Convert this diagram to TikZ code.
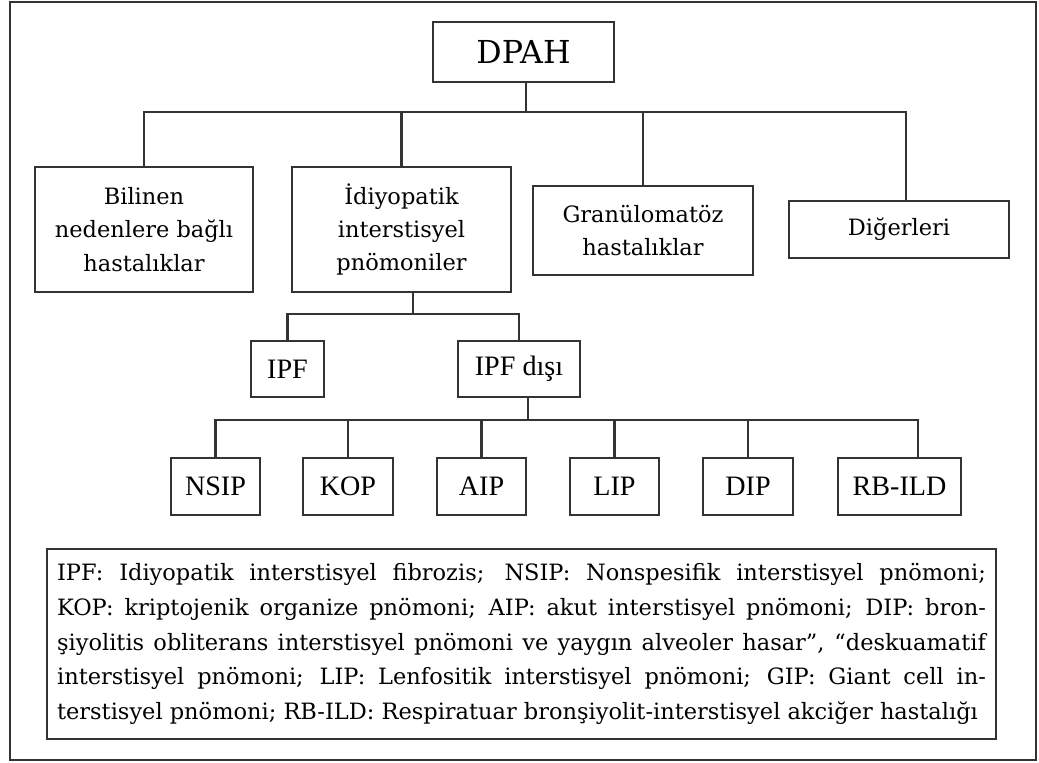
\documentclass[tikz,border=0pt]{standalone}
\usepackage{fontspec}
\setmainfont{DejaVu Serif}
\newfontfamily\timesfont{Liberation Serif}

\tikzset{
  box/.style={draw=black!80, line width=1.2pt, align=center, inner sep=0pt,
    font=\fontsize{12.8}{19}\selectfont},
  tbox/.style={box, font=\timesfont\fontsize{16}{18}\selectfont, minimum height=1.14cm},
  link/.style={draw=black!80, line width=1.2pt},
}

\begin{document}
\begin{tikzpicture}[x=0.02cm, y=-0.02cm]
  \useasboundingbox (0,0) rectangle (1039,762);
  \draw[link] (10,2) rectangle (1036,760);
  % upper levels
  \node[box, minimum width=3.62cm, minimum height=1.2cm, font=\fontsize{18}{20}\selectfont] (dpah) at (523.5,52) {DPAH};
  \node[box, minimum width=4.36cm, minimum height=2.5cm] (bil) at (144,229.5) {Bilinen\\nedenlere bağlı\\hastalıklar};
  \node[box, minimum width=4.38cm, minimum height=2.5cm] (idio) at (401.5,229.5) {İdiyopatik\\interstisyel\\pnömoniler};
  \node[box, minimum width=4.4cm, minimum height=1.78cm] (gran) at (643,230.5) {Granülomatöz\\hastalıklar};
  \node[box, minimum width=4.4cm, minimum height=1.14cm] (dig) at (899,229.5) {Diğerleri};
  \node[tbox, minimum width=1.46cm, minimum height=1.12cm] (ipf) at (287.5,369) {IPF};
  \node[tbox, minimum width=2.44cm, minimum height=1.12cm] (ipfd) at (519,369) {IPF dışı};
  % lower row
  \foreach \nm/\lab/\x/\w in {nsip/NSIP/215.5/1.78, kop/KOP/348/1.8, aip/AIP/481.5/1.78,
      lip/LIP/614.5/1.78, dip/DIP/748/1.8, rbild/RB-ILD/899.5/2.46}
    \node[tbox, minimum width=\w cm] (\nm) at (\x,486.5) {\lab};
  % connectors
  \coordinate (bus1) at (526,112);
  \coordinate (bus2) at (413,314);
  \coordinate (bus3) at (528,420);
  \draw[link] (dpah.south -| bus1) -- (bus1);
  \draw[link] (bil.north) |- (bus1) -| ([xshift=0.14cm]dig.north);
  \foreach \nm in {idio, gran}
    \draw[link] (\nm.north) -- (\nm.north |- bus1);
  \draw[link] (idio.south -| bus2) -- (bus2);
  \draw[link] (ipf.north) |- (bus2) -| (ipfd.north);
  \draw[link] (ipfd.south -| bus3) -- (bus3);
  \draw[link] (nsip.north) |- (bus3) -| ([xshift=0.37cm]rbild.north);
  \foreach \nm in {kop, aip, lip, dip}
    \draw[link] (\nm.north) -- (\nm.north |- bus3);
  % legend
  \node[box, text width=18.58cm, inner xsep=0.2cm, minimum height=3.8cm, align=justify,
      font=\fontsize{12.8}{19.8}\selectfont] (leg) at (521.5,644) {%
    \parfillskip=0pt \tolerance=10000 \hyphenpenalty=10000 \hbadness=10000
    IPF: Idiyopatik interstisyel fibrozis; NSIP: Nonspesifik interstisyel pnömoni;\linebreak
    KOP: kriptojenik organize pnömoni; AIP: akut interstisyel pnömoni; DIP: bron-\linebreak
    şiyolitis obliterans interstisyel pnömoni ve yaygın alveoler hasar", “deskuamatif\linebreak
    interstisyel pnömoni; LIP: Lenfositik interstisyel pnömoni; GIP: Giant cell in-\linebreak
    terstisyel pnömoni; RB-ILD: Respiratuar bronşiyolit-interstisyel akciğer hastalığı};
\end{tikzpicture}
\end{document}
